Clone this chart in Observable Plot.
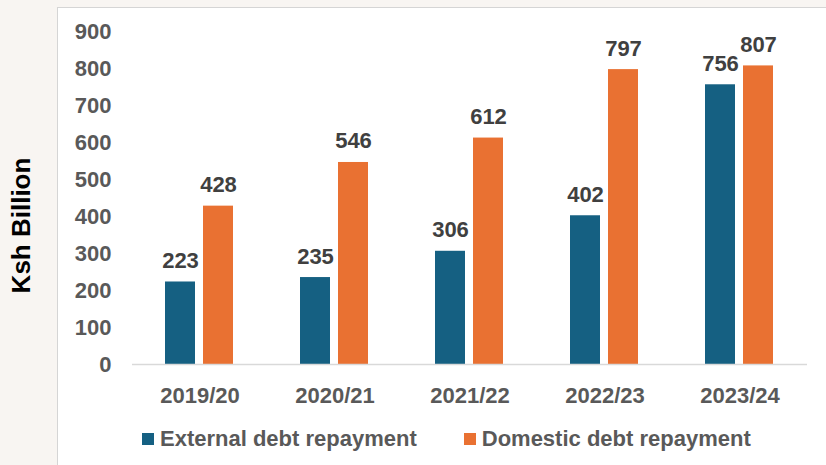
<!DOCTYPE html>
<html>
<head>
<meta charset="utf-8">
<script src="https://cdn.jsdelivr.net/npm/d3@7"></script>
<script src="https://cdn.jsdelivr.net/npm/@observablehq/plot@0.6"></script>
<style>
  html, body { margin: 0; padding: 0; background: #f8f5f2; }
  #wrap { position: relative; width: 826px; height: 465px; overflow: hidden;
          font-family: "Liberation Sans", Arial, sans-serif; }
  #panel { position: absolute; left: 57px; top: 7px; width: 820px; height: 520px;
           background: #fff; border: 1.5px solid #d5d5d5; }
  #chart { position: relative; }
  #chart svg { display: block; overflow: visible; }
  #chart g[aria-label="y-axis label"] { transform: translate(-120px, 28px); }
  #chart g[aria-label="y-axis label"] text { font-size: 26px; fill: #000; }
  .legend { position: relative; display: flex; align-items: center; height: 22px;
            margin-top: 8px; padding-left: 142px; font-weight: bold; font-size: 22px; color: #595959; }
  .legend .item { display: flex; align-items: center; margin-right: 47px; }
  .legend .sw { width: 12px; height: 12px; margin-right: 6px; }
</style>
</head>
<body>
<div id="wrap">
  <div id="panel"></div>
  <div id="chart"></div>
</div>
<script>
// Debt repayment by fiscal year (Ksh billion)
const years = ["2019/20", "2020/21", "2021/22", "2022/23", "2023/24"];
const external = [223, 235, 306, 402, 756];
const domestic = [428, 546, 612, 797, 807];
const series = ["External debt repayment", "Domestic debt repayment"];
const colors = ["#156082", "#E97132"];
const yTicks = [0, 100, 200, 300, 400, 500, 600, 700, 800, 900];
const yLabel = "Ksh Billion";

const rows = years.flatMap((year, i) => [
  {year, series: series[0], value: external[i]},
  {year, series: series[1], value: domestic[i]}
]);

const chart = Plot.plot({
  width: 826,
  height: 420,
  marginLeft: 131,
  marginRight: 19,
  marginTop: 31,
  marginBottom: 56,
  style: {background: "transparent", fontFamily: "'Liberation Sans', Arial, sans-serif", fontWeight: "bold"},
  fx: {domain: years, padding: 0, label: null},
  x: {domain: series, paddingInner: 0.208, paddingOuter: 0.86, axis: null},
  y: {domain: [0, 900]},
  color: {domain: series, range: colors},
  marks: [
    Plot.barY(rows, {fx: "year", x: "series", y: "value", fill: "series"}),
    Plot.ruleY([0], {stroke: "#d9d9d9", strokeWidth: 1.5}),
    Plot.text(rows, {
      fx: "year", x: "series", y: "value", text: d => String(d.value),
      lineAnchor: "bottom", dy: -14, fill: "#404040", fontSize: 22, fontWeight: "bold"
    }),
    Plot.axisY({
      ticks: yTicks, tickSize: 0, tickPadding: 21, fontSize: 22, fill: "#595959",
      label: yLabel, labelAnchor: "center", labelOffset: 118, labelArrow: "none"
    }),
    Plot.axisFx({anchor: "bottom", tickSize: 0, tickPadding: 23, fontSize: 22, fill: "#595959", label: null})
  ]
});
document.getElementById("chart").appendChild(chart);

// Legend below the chart
const legend = document.createElement("div");
legend.className = "legend";
series.forEach((name, i) => {
  const item = document.createElement("div");
  item.className = "item";
  const sw = document.createElement("span");
  sw.className = "sw";
  sw.style.background = colors[i];
  const label = document.createElement("span");
  label.textContent = name;
  item.append(sw, label);
  legend.appendChild(item);
});
document.getElementById("chart").appendChild(legend);
</script>
</body>
</html>
